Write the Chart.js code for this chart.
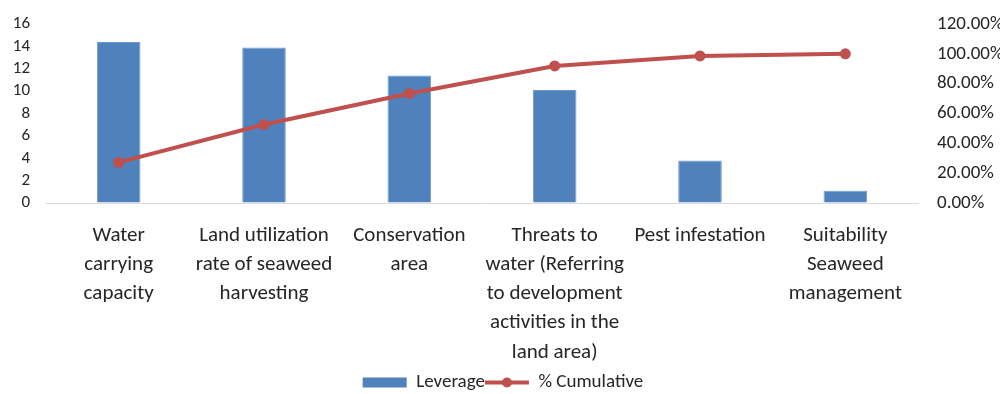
<!DOCTYPE html>
<html>
<head>
<meta charset="utf-8">
<script src="https://cdn.jsdelivr.net/npm/chart.js@4"></script>
<style>
  html, body { margin: 0; padding: 0; background: #fff; }
  #wrap { width: 1004px; height: 394px; position: relative; }
</style>
</head>
<body>
<div id="wrap"><canvas id="chart"></canvas></div>
<script>
const categories = [
    ['Water', 'carrying', 'capacity'],
    ['Land utilization', 'rate of seaweed', 'harvesting'],
    ['Conservation', 'area'],
    ['Threats to', 'water (Referring', 'to development', 'activities in the', 'land area)'],
    ['Pest infestation'],
    ['Suitability', 'Seaweed', 'management']
];
const leverage = [14.4, 13.9, 11.4, 10.1, 3.8, 1.1];
const cumulative = [27.2, 52.6, 73.4, 91.9, 98.6, 100];
const leftTicks = [0, 2, 4, 6, 8, 10, 12, 14, 16];
const rightTicks = [0, 20, 40, 60, 80, 100, 120];

const FONT = 'Carlito, Lato, "Liberation Sans", sans-serif';
const BLUE = '#4F81BD';
const RED = '#C0504D';
const TEXT = '#262626';

// puts the dot on the middle of the line legend item
const legendDot = {
    id: 'legendDot',
    afterDraw(chart) {
        const boxes = chart.legend.legendHitBoxes;
        if (!boxes || !boxes[1]) return;
        const b = boxes[1];
        const ctx = chart.ctx;
        ctx.save();
        ctx.fillStyle = RED;
        ctx.beginPath();
        ctx.arc(b.left + 44 / 2, b.top + b.height / 2, 5, 0, Math.PI * 2);
        ctx.fill();
        ctx.restore();
    }
};

// invisible tick marks push the labels away without adding top padding
const hiddenTicks = (len) => ({
    display: true,
    drawOnChartArea: false,
    drawTicks: true,
    tickLength: len,
    tickColor: 'rgba(0,0,0,0)'
});

new Chart(document.getElementById('chart'), {
    type: 'bar',
    data: {
        labels: categories,
        datasets: [
            {
                label: 'Leverage',
                data: leverage,
                backgroundColor: BLUE,
                borderColor: '#6F9AD0',
                borderWidth: 1,
                yAxisID: 'y',
                order: 2,
                categoryPercentage: 1,
                barPercentage: 0.3
            },
            {
                label: '% Cumulative',
                data: cumulative,
                type: 'line',
                borderColor: RED,
                backgroundColor: RED,
                borderWidth: 4,
                pointRadius: 5.5,
                pointBackgroundColor: RED,
                pointBorderWidth: 0,
                tension: 0,
                yAxisID: 'y1',
                order: 1
            }
        ]
    },
    options: {
        responsive: true,
        maintainAspectRatio: false,
        animation: false,
        layout: { padding: { top: 24, left: 6, right: 4, bottom: -8 } },
        plugins: {
            tooltip: { enabled: false },
            legend: {
                position: 'bottom',
                labels: {
                    font: { family: FONT, size: 19 },
                    color: TEXT,
                    usePointStyle: true,
                    pointStyleWidth: 44,
                    boxHeight: 10,
                    padding: 0,
                    generateLabels(chart) {
                        const items = Chart.defaults.plugins.legend.labels.generateLabels(chart)
                            .sort((a, b) => a.datasetIndex - b.datasetIndex);
                        items[0].pointStyle = 'rect';
                        items[0].lineWidth = 0;
                        items[1].pointStyle = 'line';
                        items[1].lineWidth = 4;
                        return items;
                    }
                }
            }
        },
        scales: {
            x: {
                afterFit: (s) => { s.height = 170; },
                grid: { display: false, drawTicks: false },
                border: { display: true, color: '#D9D9D9', width: 1 },
                ticks: {
                    maxRotation: 0,
                    autoSkip: false,
                    padding: 18,
                    color: TEXT,
                    font: { family: FONT, size: 21, lineHeight: 1.39 }
                }
            },
            y: {
                position: 'left',
                min: 0,
                max: 16,
                afterBuildTicks: (axis) => { axis.ticks = leftTicks.map(v => ({ value: v })); },
                afterFit: (s) => { s.width = 40; },
                grid: hiddenTicks(14),
                border: { display: false },
                ticks: {
                    autoSkip: false,
                    padding: 2,
                    color: TEXT,
                    font: { family: FONT, size: 17 }
                }
            },
            y1: {
                position: 'right',
                min: 0,
                max: 120,
                afterBuildTicks: (axis) => { axis.ticks = rightTicks.map(v => ({ value: v })); },
                afterFit: (s) => { s.width = 82; },
                grid: hiddenTicks(17),
                border: { display: false },
                ticks: {
                    autoSkip: false,
                    padding: 2,
                    color: TEXT,
                    font: { family: FONT, size: 19 },
                    callback: (v) => v.toFixed(2) + '%'
                }
            }
        }
    },
    plugins: [legendDot]
});
</script>
</body>
</html>
